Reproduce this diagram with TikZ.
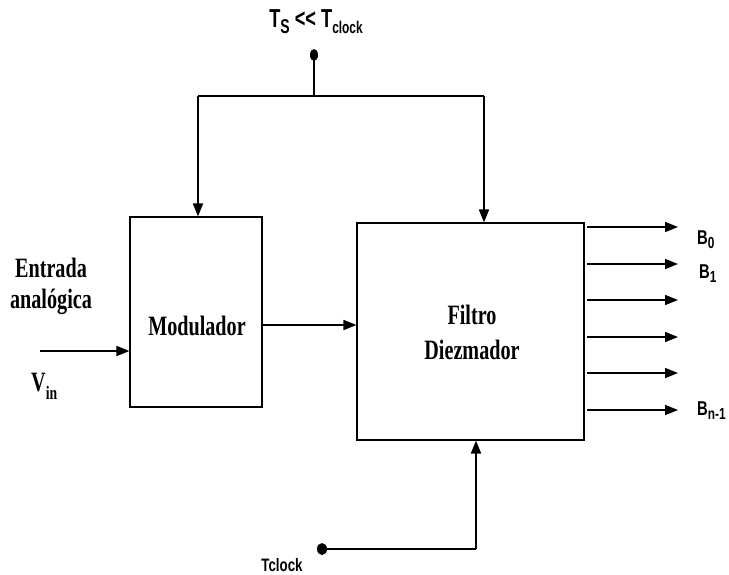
\documentclass[tikz,border=0pt]{standalone}
\usepackage{fontspec}
\usetikzlibrary{arrows.meta,shapes.geometric}
\newfontfamily\serifc[FakeStretch=0.72]{Liberation Serif}
\newfontfamily\sansc[FakeStretch=0.74]{Liberation Sans}
\newfontfamily\sanst[FakeStretch=0.7]{Liberation Sans}
\newcommand\fs[1]{\fontsize{#1}{#1}\selectfont}
\newcommand\dn[2]{\raisebox{-#1}{#2}}
\begin{document}
\begin{tikzpicture}[x=1pt,y=-1pt,
  blk/.style={draw, line width=1.1pt, inner sep=0pt},
  arr/.style={line width=1.7pt, -{Triangle[length=13pt,width=10pt]}},
  wire/.style={line width=1.7pt},
  lbls/.style={font=\serifc\bfseries\fs{28}, align=center, inner sep=0pt},
  lbla/.style={font=\sansc\bfseries\fs{20}, inner sep=0pt},
  dotn/.style={ellipse, fill, inner sep=0pt, minimum width=8pt, minimum height=12pt}]
\useasboundingbox (0,0) rectangle (729,574);

% blocks
\node[blk, minimum width=132pt, minimum height=190pt] (mod) at (196,312) {};
\node[blk, minimum width=227pt, minimum height=217pt] (filt) at (470.5,331.5) {};
\node[lbls] (modt) at (197,326) {Modulador};
\node[lbls] (filt1) at (472,315) {Filtro};
\node[lbls] (filt2) at (472,350) {Diezmador};

% top clock
\node[lbla, font=\sanst\bfseries\fs{26}] (ts) at (316,22) {T\dn{0.22em}{\fs{20}S} {<}{<} T\dn{0.22em}{\fs{17}clock}};
\node[dotn] (tdot) at (314,55) {};
\coordinate (tj) at (314,96);
\coordinate (tl) at (198,96);
\coordinate (tr) at (484,96);
\draw[wire] (tdot.center) -- (tj);
\draw[wire] (tl) -- (tr);
\draw[arr] (tl) -- (tl |- mod.north);
\draw[arr] (tr) -- (tr |- filt.north);

% input
\node[lbls] (ent1) at (51,268) {Entrada};
\node[lbls] (ent2) at (51,302) {analógica};
\node[lbls, anchor=base west] (vin) at (31,391) {V\dn{0.3em}{\fs{19}in}};
\coordinate (in) at (40,351);
\draw[arr] (in) -- (in -| mod.west);

% modulator -> filter
\coordinate (m1) at (262,325);
\draw[arr] (m1) -- (m1 -| filt.west);

% outputs
\foreach \i/\y in {0/227,1/264,2/300,3/337,4/373,5/410}{
  \coordinate (o\i) at (587,\y);
  \coordinate (e\i) at (678,\y);
  \draw[arr] (o\i) -- (e\i);
}
\node[lbla, anchor=base west] (b0) at (697,244) {B\dn{0.22em}{\fs{16}0}};
\node[lbla, anchor=base west] (b1) at (699,278) {B\dn{0.22em}{\fs{16}1}};
\node[lbla, anchor=base west] (bn) at (697,415) {B\dn{0.22em}{\fs{16}n-1}};

% bottom clock
\node[dotn, minimum width=10pt, minimum height=12pt] (bdot) at (322,549) {};
\coordinate (bc) at (476,549);
\draw[wire] (bdot.center) -- (bc);
\draw[arr] (bc) -- (bc |- filt.south);
\node[lbla, font=\sansc\bfseries\fs{18}] (tclk) at (282,565) {Tclock};
\end{tikzpicture}
\end{document}
